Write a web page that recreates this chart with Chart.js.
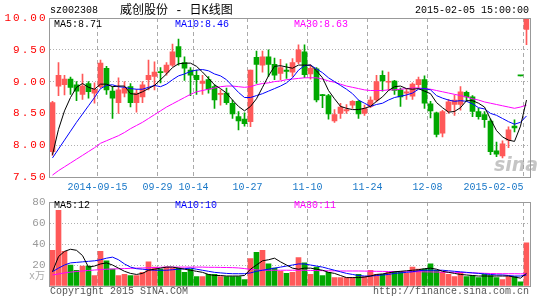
<!DOCTYPE html>
<html>
<head>
<meta charset="utf-8">
<script src="https://cdn.jsdelivr.net/npm/chart.js@4.4.1/dist/chart.umd.min.js"></script>
<style>
  body { margin: 0; background: #fff; width: 545px; height: 300px; overflow: hidden; position: relative; font-family: "Liberation Mono", monospace; }
  canvas { position: absolute; left: 0; }
  #kline { top: 0; }
  #vol { top: 190px; }
  .t { position: absolute; font-size: 10px; line-height: 12px; white-space: nowrap; }
</style>
</head>
<body>
<canvas id="kline" width="545" height="200"></canvas>
<canvas id="vol" width="545" height="110"></canvas>

<div class="t" style="left:50px;top:5px;color:#000">sz002308</div>
<div class="t" style="left:120px;top:4px;font-size:12px;line-height:14px;font-family:'Liberation Mono','Noto Sans CJK SC';color:#000">威创股份 - 日K线图</div>
<div class="t" style="right:16px;top:5px;color:#000">2015-02-05 15:00:00</div>

<div class="t" style="left:54px;top:19px;color:#000">MA5:8.71</div>
<div class="t" style="left:175px;top:19px;color:#0000ff">MA10:8.46</div>
<div class="t" style="left:294px;top:19px;color:#ff00ff">MA30:8.63</div>

<div class="t" style="left:54px;top:200px;color:#000">MA5:12</div>
<div class="t" style="left:175px;top:200px;color:#0000ff">MA10:10</div>
<div class="t" style="left:294px;top:200px;color:#ff00ff">MA30:11</div>

<div class="t" style="left:29px;top:271px;color:#aaa;font-family:'Liberation Mono','Noto Sans CJK SC'">x万</div>
<div class="t" style="left:50px;top:286px;color:#555">Copyright 2015 SINA.COM</div>
<div class="t" style="right:16px;top:286px;color:#555">http://finance.sina.com.cn</div>
<div class="t" style="left:494px;top:153px;font:italic bold 19px 'DejaVu Sans';color:rgba(150,150,150,0.55)">sina</div>

<script>
// trading days (halt between 2014-12-26 and 2015-02-04)
const dates = [
  '2014-09-02','2014-09-03','2014-09-04','2014-09-05','2014-09-09','2014-09-10','2014-09-11','2014-09-12',
  '2014-09-15','2014-09-16','2014-09-17','2014-09-18','2014-09-19','2014-09-22','2014-09-23','2014-09-24','2014-09-25','2014-09-26',
  '2014-09-29','2014-09-30','2014-10-08','2014-10-09','2014-10-10','2014-10-13',
  '2014-10-14','2014-10-15','2014-10-16','2014-10-17','2014-10-20','2014-10-21','2014-10-22','2014-10-23','2014-10-24',
  '2014-10-27','2014-10-28','2014-10-29','2014-10-30','2014-10-31','2014-11-03','2014-11-04','2014-11-05','2014-11-06','2014-11-07',
  '2014-11-10','2014-11-11','2014-11-12','2014-11-13','2014-11-14','2014-11-17','2014-11-18','2014-11-19','2014-11-20','2014-11-21',
  '2014-11-24','2014-11-25','2014-11-26','2014-11-27','2014-11-28','2014-12-01','2014-12-02','2014-12-03','2014-12-04','2014-12-05',
  '2014-12-08','2014-12-09','2014-12-10','2014-12-11','2014-12-12','2014-12-15','2014-12-16','2014-12-17','2014-12-18','2014-12-19',
  '2014-12-22','2014-12-23','2014-12-24','2014-12-25','2014-12-26','2015-02-04','2015-02-05'
];

const opens = [
  7.90, 8.93, 8.95, 9.04, 8.95, 8.80, 8.97, 8.82, 8.92, 9.21,
  8.85, 8.67, 8.82, 8.92, 8.67, 8.76, 9.03, 9.08, 9.15, 9.15,
  9.26, 9.55, 9.30, 9.18, 9.10, 8.97, 9.03, 8.92, 8.80, 8.82,
  8.66, 8.45, 8.41, 8.37, 9.38, 9.26, 9.39, 9.27, 9.13, 9.18,
  9.15, 9.31, 9.47, 9.12, 9.20, 8.79, 8.78, 8.38, 8.50, 8.54,
  8.63, 8.69, 8.50, 8.61, 8.71, 9.10, 8.99, 9.01, 8.87, 8.82,
  8.77, 8.95, 9.03, 8.65, 8.51, 8.19, 8.54, 8.64, 8.64, 8.83,
  8.76, 8.53, 8.48, 8.38, 7.91, 7.83, 8.08, 8.30, 9.09, 9.82
];
const closes = [
  8.67, 9.10, 9.04, 8.91, 8.85, 8.93, 8.84, 8.88, 9.29, 8.87,
  8.74, 8.87, 8.90, 8.67, 8.82, 8.95, 9.10, 9.15, 9.14, 9.26,
  9.47, 9.39, 9.21, 9.10, 9.03, 9.01, 8.88, 8.71, 8.81, 8.67,
  8.49, 8.38, 8.34, 9.18, 9.27, 9.39, 9.27, 9.10, 9.22, 9.16,
  9.30, 9.50, 9.11, 9.21, 8.71, 8.78, 8.49, 8.48, 8.60, 8.56,
  8.69, 8.49, 8.58, 8.71, 9.00, 9.01, 9.00, 8.86, 8.76, 8.84,
  8.96, 9.03, 8.66, 8.54, 8.17, 8.53, 8.68, 8.71, 8.84, 8.76,
  8.53, 8.45, 8.40, 7.90, 7.86, 8.02, 8.24, 8.27, 9.09, 10.00
];
const highs = [
  8.69, 9.30, 9.10, 9.07, 9.00, 9.12, 9.00, 8.98, 9.34, 9.24,
  8.92, 9.06, 9.00, 8.97, 8.88, 9.00, 9.34, 9.31, 9.22, 9.30,
  9.59, 9.67, 9.39, 9.22, 9.18, 9.10, 9.08, 8.95, 8.87, 8.90,
  8.71, 8.53, 8.51, 9.18, 9.48, 9.48, 9.50, 9.37, 9.35, 9.28,
  9.36, 9.58, 9.58, 9.26, 9.22, 8.80, 8.80, 8.56, 8.66, 8.64,
  8.70, 8.70, 8.63, 8.76, 9.10, 9.17, 9.15, 9.02, 8.90, 8.88,
  8.98, 9.07, 9.09, 8.69, 8.52, 8.55, 8.72, 8.79, 8.92, 8.85,
  8.78, 8.58, 8.53, 8.41, 8.05, 8.07, 8.29, 8.40, 9.09, 10.00
];
const lows = [
  7.84, 8.78, 8.79, 8.80, 8.70, 8.72, 8.74, 8.66, 8.90, 8.80,
  8.42, 8.50, 8.76, 8.60, 8.52, 8.67, 8.87, 8.87, 8.98, 9.10,
  9.24, 9.26, 9.02, 8.78, 8.80, 8.80, 8.82, 8.58, 8.63, 8.64,
  8.42, 8.24, 8.30, 8.29, 8.97, 9.15, 9.08, 9.03, 9.03, 9.05,
  9.08, 9.28, 9.06, 9.04, 8.68, 8.59, 8.41, 8.36, 8.42, 8.50,
  8.58, 8.42, 8.47, 8.59, 8.68, 8.85, 8.87, 8.80, 8.61, 8.72,
  8.72, 8.90, 8.58, 8.43, 8.13, 8.13, 8.50, 8.47, 8.55, 8.69,
  8.45, 8.41, 8.28, 7.85, 7.82, 7.80, 7.96, 8.21, 9.09, 9.58
];

// moving averages as drawn on the chart
const ma5 = [
  7.85, 8.25, 8.54, 8.75, 8.91, 8.97, 8.91, 8.88, 8.96, 8.96,
  8.92, 8.93, 8.93, 8.81, 8.80, 8.84, 8.89, 8.94, 9.03, 9.12,
  9.22, 9.28, 9.29, 9.29, 9.24, 9.15, 9.05, 8.95, 8.89, 8.82,
  8.71, 8.61, 8.54, 8.61, 8.73, 8.91, 9.09, 9.24, 9.25, 9.23,
  9.21, 9.26, 9.26, 9.26, 9.17, 9.06, 8.86, 8.73, 8.61, 8.58,
  8.56, 8.56, 8.58, 8.61, 8.69, 8.76, 8.86, 8.92, 8.93, 8.89,
  8.88, 8.89, 8.85, 8.81, 8.67, 8.59, 8.52, 8.53, 8.59, 8.70,
  8.70, 8.66, 8.60, 8.41, 8.23, 8.13, 8.08, 8.06, 8.30, 8.71
];
const ma10 = [
  7.80, 7.94, 8.08, 8.22, 8.36, 8.49, 8.62, 8.75, 8.89, 8.94,
  8.95, 8.92, 8.91, 8.89, 8.88, 8.88, 8.91, 8.94, 8.92, 8.96,
  9.03, 9.09, 9.12, 9.16, 9.18, 9.19, 9.17, 9.12, 9.09, 9.03,
  8.93, 8.83, 8.75, 8.75, 8.78, 8.81, 8.85, 8.89, 8.93, 8.98,
  9.06, 9.18, 9.25, 9.26, 9.20, 9.14, 9.06, 9.00, 8.94, 8.88,
  8.81, 8.71, 8.66, 8.61, 8.64, 8.66, 8.71, 8.75, 8.77, 8.79,
  8.82, 8.88, 8.89, 8.87, 8.78, 8.74, 8.71, 8.69, 8.70, 8.69,
  8.65, 8.59, 8.57, 8.50, 8.47, 8.42, 8.37, 8.33, 8.36, 8.46
];
const ma30 = [
  7.53, 7.60, 7.66, 7.72, 7.78, 7.84, 7.90, 7.96, 8.03, 8.07,
  8.11, 8.15, 8.20, 8.26, 8.31, 8.36, 8.42, 8.48, 8.54, 8.60,
  8.65, 8.70, 8.75, 8.80, 8.84, 8.86, 8.88, 8.90, 8.92, 8.93,
  8.93, 8.92, 8.91, 8.92, 8.95, 8.97, 8.98, 9.00, 9.01, 9.03,
  9.04, 9.05, 9.06, 9.06, 9.06, 9.04, 9.01, 8.99, 8.96, 8.93,
  8.91, 8.89, 8.87, 8.86, 8.86, 8.86, 8.87, 8.87, 8.88, 8.89,
  8.90, 8.90, 8.89, 8.88, 8.86, 8.84, 8.82, 8.80, 8.78, 8.76,
  8.73, 8.71, 8.68, 8.66, 8.64, 8.62, 8.60, 8.58, 8.60, 8.63
];

// volume, in 10k shares
const volumes = [
  34, 72, 33, 20, 15, 19, 19, 10, 33, 24,
  16, 10, 11, 10, 10, 13, 23, 18, 16, 18,
  17, 17, 13, 16, 9, 9, 11, 11, 9, 9,
  9, 9, 6, 26, 32, 34, 21, 17, 14, 12,
  13, 27, 22, 11, 18, 10, 13, 8, 8, 8,
  8, 11, 9, 15, 11, 11, 13, 14, 14, 12,
  18, 16, 16, 21, 15, 13, 11, 9, 13, 9,
  10, 8, 11, 10, 8, 6, 9, 9, 4, 41
];
const volMa5 = [
  13.7, 28, 33, 35, 34, 29, 18, 19, 21, 22,
  20, 17, 14, 12, 11, 12, 15, 16, 17, 18,
  18, 17, 16, 15, 14, 13, 11, 10, 10, 9.5,
  9.5, 9.5, 10, 16, 20, 24, 25, 26.5, 23, 20,
  17, 16, 17, 17, 16, 15, 13, 12, 10, 8,
  8, 8, 8.5, 9.5, 11, 11.5, 12.5, 13.5, 14, 14.5,
  15, 15.5, 16.5, 17, 16, 14, 13, 12, 11, 10.5,
  10, 9.5, 9.5, 9.5, 9.5, 9.5, 9.5, 8.5, 7.5, 12
];
const volMa10 = [
  13.7, 17, 20, 22, 22.5, 23, 23.5, 24, 25, 26.5,
  27.5, 25, 21, 18, 16.5, 16, 15.5, 15, 15, 15,
  15.5, 16, 16.5, 17, 16, 15, 14, 13, 12.5, 12,
  11.7, 11.7, 11.7, 12.5, 14, 15, 16, 17, 18, 19,
  20, 21, 21, 20, 19, 18, 16.5, 15, 13.5, 12,
  11, 10, 9.5, 9.5, 10, 10.5, 11, 12, 12.5, 13,
  13.6, 14.5, 15, 15, 15, 15, 14.5, 14, 13.5, 13,
  12.5, 12, 11.5, 11, 10.5, 10.5, 10, 9.5, 9.5, 10.5
];
const volMa30 = [
  10.5, 11.5, 12.5, 13.2, 13.8, 14.3, 14.8, 15.2, 15.6, 16,
  16.2, 16.4, 16.6, 16.8, 17, 17.2, 17.4, 17.6, 17.8, 18,
  18, 18, 18, 18, 18, 18, 17.8, 17.8, 17.7, 17.6,
  17.5, 17.2, 16.6, 15.8, 15.3, 15, 15, 15, 15, 15,
  15, 15, 15, 14.8, 14.7, 14.6, 14.5, 14.4, 14.3, 14.3,
  14.3, 14.3, 14.2, 14.1, 14, 13.9, 13.8, 13.7, 13.6, 13.6,
  13.6, 13.6, 13.5, 13.4, 13.3, 13.2, 13.1, 13, 12.9, 12.7,
  12.5, 12.3, 12.1, 11.9, 11.8, 11.7, 11.7, 11.7, 11.6, 11.7
];

// dates that get a dashed grid line and a label under the price panel
const tickDates = ['2014-09-15', '2014-09-29', '2014-10-14', '2014-10-27', '2014-11-10', '2014-11-24', '2014-12-08', '2015-02-05'];
const tickText = ['2014-09-15', '09-29', '10-14', '10-27', '11-10', '11-24', '12-08', '2015-02-05'];

const RED = '#ff5959';
const GREEN = '#00a800';
const candleColors = closes.map((c, i) => c > opens[i] ? RED : GREEN);
const gridIdx = tickDates.map(d => dates.indexOf(d));

Chart.defaults.font.family = 'Liberation Mono';

// gray frame round the plot area
const frame = {
    id: 'frame',
    afterDraw(chart) {
        const { ctx, chartArea: a } = chart;
        ctx.save();
        ctx.letterSpacing = '0px';
        ctx.strokeStyle = '#999';
        ctx.lineWidth = 1;
        const l = Math.round(a.left) - 0.5, t = Math.round(a.top) + 0.5;
        const r = Math.round(a.right) + 0.5, b = Math.round(a.bottom) + 0.5;
        ctx.strokeRect(l, t, r - l, b - t);
        ctx.restore();
    }
};

// wide price labels on the left axis
const spacedTicks = {
    id: 'spacedTicks',
    beforeDraw(chart) { chart.ctx.letterSpacing = '2px'; },
    afterDraw(chart) { chart.ctx.letterSpacing = '0px'; }
};

// date labels sit on the grid lines, the last one ends at its line
const dateLabels = {
    id: 'dateLabels',
    afterDraw(chart) {
        const { ctx, scales: { x }, chartArea } = chart;
        const half = (chartArea.right - chartArea.left) / dates.length / 2;
        ctx.save();
        ctx.letterSpacing = '0px';
        ctx.font = '10px "Liberation Mono"';
        ctx.fillStyle = '#1a78c8';
        ctx.textBaseline = 'middle';
        gridIdx.forEach((i, k) => {
            const px = x.getPixelForValue(i) - half;
            ctx.textAlign = k === gridIdx.length - 1 ? 'right' : 'center';
            ctx.fillText(tickText[k], px, chartArea.bottom + 10);
        });
        ctx.restore();
    }
};

const xAxis = (height) => ({
    type: 'category',
    offset: true,
    afterFit: (s) => { s.height = height; },
    ticks: { display: false, autoSkip: false },
    grid: {
        offset: true,
        drawTicks: false,
        color: (c) => gridIdx.includes(c.index) ? '#aaa' : 'rgba(0,0,0,0)'
    },
    border: { display: false, dash: [4, 3] }
});

const lineSet = (label, data, color) => ({
    type: 'line', label, data, borderColor: color, borderWidth: 1,
    pointRadius: 0, tension: 0, order: 1
});

new Chart(document.getElementById('kline'), {
    type: 'bar',
    data: {
        labels: dates,
        datasets: [
            lineSet('MA5', ma5, '#000'),
            lineSet('MA10', ma10, '#0000ff'),
            lineSet('MA30', ma30, '#ff00ff'),
            {
                label: 'body', data: opens.map((o, i) => [o, closes[i]]),
                backgroundColor: candleColors, barThickness: 5, minBarLength: 1,
                grouped: false, order: 2
            },
            {
                label: 'wick', data: lows.map((l, i) => [l, highs[i]]),
                backgroundColor: candleColors, barThickness: 1,
                grouped: false, order: 3
            }
        ]
    },
    options: {
        responsive: false,
        animation: false,
        layout: { padding: { top: 18, right: 15.5, left: 0, bottom: 0 } },
        plugins: { legend: { display: false }, tooltip: { enabled: false } },
        scales: {
            x: xAxis(23),
            y: {
                min: 7.5, max: 10,
                afterFit: (s) => { s.width = 49.5; },
                ticks: {
                    stepSize: 0.5, color: '#f00', padding: 2,
                    font: { family: 'Liberation Mono', size: 11 },
                    callback: (v) => v.toFixed(2)
                },
                grid: { color: '#b0b0b0', drawTicks: false },
                border: { display: false, dash: [1, 2] }
            }
        }
    },
    plugins: [spacedTicks, frame, dateLabels]
});

new Chart(document.getElementById('vol'), {
    type: 'bar',
    data: {
        labels: dates,
        datasets: [
            lineSet('MA5', volMa5, '#000'),
            lineSet('MA10', volMa10, '#0000ff'),
            lineSet('MA30', volMa30, '#ff00ff'),
            {
                label: 'volume', data: volumes, backgroundColor: candleColors,
                barThickness: 5, order: 2
            }
        ]
    },
    options: {
        responsive: false,
        animation: false,
        layout: { padding: { top: 12, right: 15.5, left: 0, bottom: 0 } },
        plugins: { legend: { display: false }, tooltip: { enabled: false } },
        scales: {
            x: xAxis(14),
            y: {
                min: 0, max: 80,
                afterFit: (s) => { s.width = 49.5; },
                ticks: {
                    stepSize: 20, color: '#999', padding: 4,
                    font: { family: 'Liberation Mono', size: 11 },
                    callback: (v) => v === 0 ? '' : v
                },
                grid: { color: '#b0b0b0', drawTicks: false },
                border: { display: false, dash: [1, 2] }
            }
        }
    },
    plugins: [frame]
});
</script>
</body>
</html>
